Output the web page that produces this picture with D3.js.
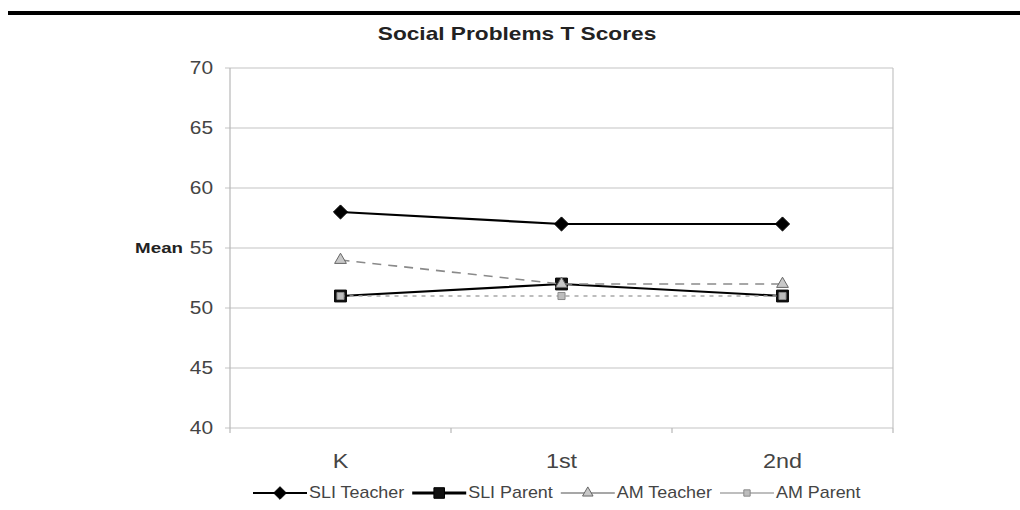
<!DOCTYPE html>
<html>
<head>
<meta charset="utf-8">
<script src="https://cdn.jsdelivr.net/npm/d3@7"></script>
<style>
  html, body { margin: 0; padding: 0; background: #ffffff; }
  svg { display: block; font-family: "Liberation Sans", Arial, sans-serif; }
</style>
</head>
<body>
<svg id="chart" width="1020" height="510"></svg>
<script>
// Grade levels on the x axis
const categories = ["K", "1st", "2nd"];
// Mean Social Problems T scores per group
const sliTeacher = [58, 57, 57];
const sliParent  = [51, 52, 51];
const amTeacher  = [54, 52, 52];
const amParent   = [51, 51, 51];
const seriesNames = ["SLI Teacher", "SLI Parent", "AM Teacher", "AM Parent"];
const yTicks = [40, 45, 50, 55, 60, 65, 70];

const svg = d3.select("#chart");
const plot = { left: 230, right: 893, top: 68, bottom: 428 };

const x = d3.scaleBand().domain(categories).range([plot.left, plot.right]);
const y = d3.scaleLinear().domain([40, 70]).range([plot.bottom, plot.top]);
const cx = c => x(c) + x.bandwidth() / 2;

// Horizontally widened text, matching the stretched look of the labels
function wideText(parent, px, py, str, opts) {
  const g = parent.append("g")
    .attr("transform", `translate(${px},${py}) scale(${opts.sx || 1.18},1)`);
  const t = g.append("text")
    .attr("x", 0).attr("y", 0)
    .attr("text-anchor", opts.anchor || "start")
    .attr("dominant-baseline", "central")
    .attr("font-size", opts.size)
    .attr("font-weight", opts.weight || "normal")
    .attr("fill", opts.fill || "#333")
    .text(str);
  return { g, t, width: t.node().getComputedTextLength() * (opts.sx || 1.18) };
}

// Square-shaped diamond (a square turned 45 degrees)
const squareDiamond = {
  draw(context, size) {
    const r = Math.sqrt(size / 2);
    context.moveTo(0, -r);
    context.lineTo(r, 0);
    context.lineTo(0, r);
    context.lineTo(-r, 0);
    context.closePath();
  }
};

// Rule across the top of the page
svg.append("rect").attr("x", 8).attr("y", 11).attr("width", 1012).attr("height", 4).attr("fill", "#000");

// Title
wideText(svg, 517, 33, "Social Problems T Scores", { size: 18, weight: "bold", anchor: "middle", sx: 1.26, fill: "#222" });

// Gridlines
svg.append("g")
  .selectAll("line")
  .data(yTicks)
  .join("line")
  .attr("x1", plot.left - 5).attr("x2", plot.right)
  .attr("y1", d => y(d)).attr("y2", d => y(d))
  .attr("stroke", "#c4c4c4").attr("stroke-width", 1.2);

// Y axis line and right frame
svg.append("line").attr("x1", plot.left).attr("x2", plot.left)
  .attr("y1", plot.top).attr("y2", plot.bottom)
  .attr("stroke", "#b8b8b8").attr("stroke-width", 1.2);
svg.append("line").attr("x1", plot.right).attr("x2", plot.right)
  .attr("y1", plot.top).attr("y2", plot.bottom)
  .attr("stroke", "#c4c4c4").attr("stroke-width", 1.2);

// Y tick labels
yTicks.forEach(v => wideText(svg, 213, y(v), String(v), { size: 18, anchor: "end", sx: 1.16, fill: "#444" }));

// Axis title
wideText(svg, 183, y(55), "Mean", { size: 15, weight: "bold", anchor: "end", sx: 1.25, fill: "#222" });

// X axis: ticks at category boundaries
const boundaries = categories.map(c => x(c)).concat([plot.right]);
svg.append("g").selectAll("line")
  .data(boundaries)
  .join("line")
  .attr("x1", d => d).attr("x2", d => d)
  .attr("y1", plot.bottom).attr("y2", plot.bottom + 5)
  .attr("stroke", "#b8b8b8").attr("stroke-width", 1.2);

categories.forEach(c => wideText(svg, cx(c), 461, c, { size: 20, anchor: "middle", sx: 1.17, fill: "#444" }));

// Series styling
const seriesData = [sliTeacher, sliParent, amTeacher, amParent];
const styles = [
  { stroke: "#000", width: 2.2, dash: null, marker: squareDiamond, msize: 100, mfill: "#000", mstroke: "#000" },
  { stroke: "#000", width: 2.2, dash: null, marker: d3.symbolSquare, msize: 140, mfill: "#111", mstroke: "#000" },
  { stroke: "#8a8a8a", width: 1.6, dash: "9,7", marker: d3.symbolTriangle, msize: 60, mfill: "#c8c8c8", mstroke: "#666" },
  { stroke: "#a8a8a8", width: 1.6, dash: "4,5", marker: d3.symbolSquare, msize: 50, mfill: "#bdbdbd", mstroke: "#8a8a8a" }
];

const line = d3.line().x((d, i) => cx(categories[i])).y(d => y(d));

seriesData.forEach((vals, s) => {
  const st = styles[s];
  svg.append("path")
    .datum(vals)
    .attr("d", line)
    .attr("fill", "none")
    .attr("stroke", st.stroke)
    .attr("stroke-width", st.width)
    .attr("stroke-dasharray", st.dash);
  svg.append("g").selectAll("path")
    .data(vals)
    .join("path")
    .attr("transform", (d, i) => `translate(${cx(categories[i])},${y(d)})`)
    .attr("d", d3.symbol().type(st.marker).size(st.msize))
    .attr("fill", st.mfill)
    .attr("stroke", st.mstroke)
    .attr("stroke-width", 1);
});

// Legend
const legendLine = [
  { stroke: "#000", width: 2 },
  { stroke: "#000", width: 3 },
  { stroke: "#8a8a8a", width: 1.6 },
  { stroke: "#a8a8a8", width: 1.6 }
];
let lx = 253;
const ly = 493;
seriesNames.forEach((name, s) => {
  const st = styles[s];
  const segLen = 54;
  svg.append("line")
    .attr("x1", lx).attr("x2", lx + segLen)
    .attr("y1", ly).attr("y2", ly)
    .attr("stroke", legendLine[s].stroke)
    .attr("stroke-width", legendLine[s].width);
  svg.append("path")
    .attr("transform", `translate(${lx + segLen / 2},${ly})`)
    .attr("d", d3.symbol().type(st.marker).size(st.msize * 0.8))
    .attr("fill", st.mfill)
    .attr("stroke", st.mstroke)
    .attr("stroke-width", 1);
  const lbl = wideText(svg, lx + segLen + 2, ly, name, { size: 16, anchor: "start", sx: 1.12, fill: "#444" });
  lx += segLen + 2 + lbl.width + 8;
});
</script>
</body>
</html>
